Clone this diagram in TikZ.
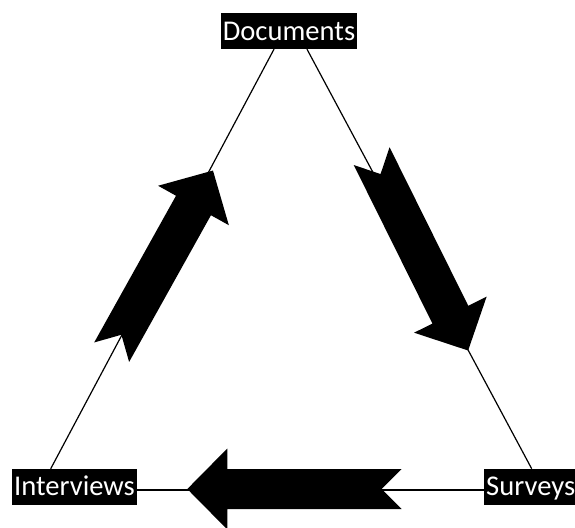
\documentclass[tikz,border=0pt]{standalone}
\usepackage{fontspec}
\setmainfont{Carlito}
\usetikzlibrary{calc,backgrounds}
\tikzset{
  lbl/.style={fill=black,text=white,inner xsep=0pt,inner ysep=0pt,
    text height=27pt,text depth=8.7pt,font=\fontsize{28.6}{34}\selectfont},
  conn/.style={line width=1.2pt,black},
  pics/bigarrow/.style={code={
    \fill[black] (0,20) -- (#1-40,20) -- (#1-40,40.5) -- (#1,0) -- (#1-40,-40.5)
      -- (#1-40,-20) -- (0,-20) -- (20,0) -- cycle;}}
}
\begin{document}
\begin{tikzpicture}[x=1pt,y=-1pt]
\useasboundingbox (0,0) rectangle (575,527);
% labels
\node[lbl,minimum width=136pt] (doc) at (289,31.15) {Documents};
\node[lbl,minimum width=124.4pt] (int) at (74.5,486.8) {Interviews};
\node[lbl,minimum width=93.4pt] (surv) at (530.7,486.8) {Surveys};
% connectors, behind the labels
\begin{scope}[on background layer]
\draw[conn] ($(doc.south)+(-15,0)$) -- ($(int.north)+(-23.8,0)$);
\draw[conn] ($(doc.south)+(18,0)$) -- ($(surv.north)+(1,0)$);
\draw[conn] ($(int.east)+(0,3.2)$) -- ($(surv.west)+(0,3.2)$);
\end{scope}
% big block arrows
\pic[rotate=60.85] at (111.65,352.2) {bigarrow=208};
\pic[rotate=-63.6] at (371.65,156.15) {bigarrow=217};
\pic[rotate=180] at (401.7,489) {bigarrow=214.4};
\end{tikzpicture}
\end{document}
